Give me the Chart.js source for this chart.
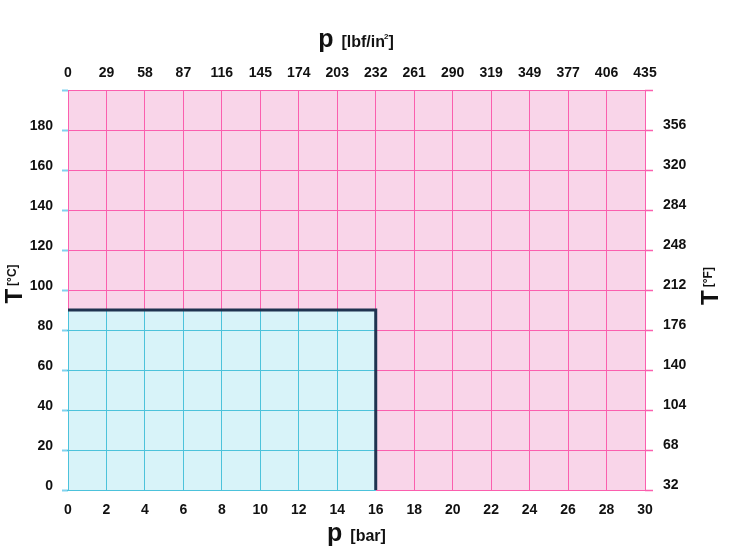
<!DOCTYPE html>
<html>
<head>
<meta charset="utf-8">
<script src="https://cdn.jsdelivr.net/npm/chart.js@4.4.0"></script>
<style>
  html, body { margin: 0; padding: 0; background: #fff; }
  #wrap { width: 730px; height: 550px; }
</style>
</head>
<body>
<div id="wrap"><canvas id="chart"></canvas></div>
<script>
(function(){
  'use strict';

  // tick labels
  const pressureBar = [0, 2, 4, 6, 8, 10, 12, 14, 16, 18, 20, 22, 24, 26, 28, 30];
  const pressurePsi = [0, 29, 58, 87, 116, 145, 174, 203, 232, 261, 290, 319, 349, 377, 406, 435];
  const tempC = [0, 20, 40, 60, 80, 100, 120, 140, 160, 180];
  const tempF = [32, 68, 104, 140, 176, 212, 248, 284, 320, 356];

  // operating limit (bar / °C)
  const limitP = [0, 16, 16];
  const limitT = [90, 90, 0];

  const PINK_BG = '#f9d5e9';
  const PINK_GRID = '#fb5fae';
  const BLUE_BG = '#d8f3f9';
  const BLUE_GRID = '#4cc2db';
  const BLUE_TICK = '#80d2ee';
  const LIMIT_LINE = '#1f3350';
  const FONT = "'Liberation Sans', Arial, Helvetica, sans-serif";

  Chart.defaults.font.family = FONT;
  Chart.defaults.color = '#111';

  const limitPoints = limitP.map((p, i) => ({ x: p, y: limitT[i] }));

  const align = (px) => Math.round(px - 0.5) + 0.5;

  const plotBackground = {
    id: 'plotBackground',
    beforeDraw(chart) {
      const { ctx, chartArea: a } = chart;
      ctx.save();
      ctx.fillStyle = PINK_BG;
      ctx.fillRect(a.left, a.top, a.right - a.left, a.bottom - a.top);
      ctx.restore();
    }
  };

  // grid lines inside the allowed region are blue
  const blueGrid = {
    id: 'blueGrid',
    afterDatasetDraw(chart, args) {
      if (args.index !== 1) return;
      const { ctx } = chart;
      const xs = chart.scales.x, ys = chart.scales.y;
      const left = xs.getPixelForValue(0), right = xs.getPixelForValue(limitP[1]);
      const top = ys.getPixelForValue(limitT[0]), bottom = ys.getPixelForValue(0);
      ctx.save();
      ctx.beginPath();
      ctx.rect(left - 1, top, right - left + 1, bottom - top + 1);
      ctx.clip();
      ctx.strokeStyle = BLUE_GRID;
      ctx.lineWidth = 1;
      ctx.beginPath();
      xs.ticks.forEach((t) => {
        const px = align(xs.getPixelForValue(t.value));
        ctx.moveTo(px, top);
        ctx.lineTo(px, bottom + 1);
      });
      ys.ticks.forEach((t) => {
        const py = align(ys.getPixelForValue(t.value));
        ctx.moveTo(left - 1, py);
        ctx.lineTo(right, py);
      });
      ctx.stroke();
      ctx.restore();
    }
  };

  function drawFlatTitle(ctx, cx, baseline, unit, sup) {
    ctx.save();
    ctx.fillStyle = '#111';
    ctx.textBaseline = 'alphabetic';
    ctx.textAlign = 'left';
    ctx.font = 'bold 25px ' + FONT;
    const wp = ctx.measureText('p').width;
    ctx.font = 'bold 16px ' + FONT;
    const wu = ctx.measureText(unit).width;
    ctx.font = 'bold 8px ' + FONT;
    const ws = sup ? ctx.measureText(sup).width : 0;
    ctx.font = 'bold 16px ' + FONT;
    const wc = sup ? ctx.measureText(']').width : 0;
    const gap = 8;
    let x = cx - (wp + gap + wu + ws + wc) / 2;
    ctx.font = 'bold 25px ' + FONT;
    ctx.fillText('p', x, baseline);
    x += wp + gap;
    ctx.font = 'bold 16px ' + FONT;
    ctx.fillText(unit, x, baseline);
    x += wu;
    if (sup) {
      ctx.font = 'bold 8px ' + FONT;
      ctx.fillText(sup, x - 1, baseline - 8);
      x += ws - 1;
      ctx.font = 'bold 16px ' + FONT;
      ctx.fillText(']', x, baseline);
    }
    ctx.restore();
  }

  function drawRotTitle(ctx, cx, cy, unit) {
    ctx.save();
    ctx.translate(cx, cy);
    ctx.rotate(-Math.PI / 2);
    ctx.fillStyle = '#111';
    ctx.textBaseline = 'middle';
    ctx.textAlign = 'left';
    ctx.font = 'bold 24px ' + FONT;
    const wt = ctx.measureText('T').width;
    ctx.font = 'bold 12px ' + FONT;
    const wu = ctx.measureText(unit).width;
    const gap = 3;
    let x = -(wt + gap + wu) / 2;
    ctx.font = 'bold 24px ' + FONT;
    ctx.fillText('T', x, 1);
    x += wt + gap;
    ctx.font = 'bold 12px ' + FONT;
    ctx.fillText(unit, x, -1);
    ctx.restore();
  }

  const axisTitles = {
    id: 'axisTitles',
    afterDraw(chart) {
      const { ctx, chartArea: a } = chart;
      const mid = (a.left + a.right) / 2;
      drawFlatTitle(ctx, mid, 47, '[lbf/in', '2');
      drawFlatTitle(ctx, mid, 541, '[bar]', null);
      drawRotTitle(ctx, 14, 284, '[°C]');
      drawRotTitle(ctx, 710, 286, '[°F]');
    }
  };

  const tickFont = { size: 14, weight: 'bold' };

  new Chart(document.getElementById('chart'), {
    type: 'line',
    data: {
      datasets: [
        {
          data: limitPoints,
          borderColor: LIMIT_LINE,
          borderWidth: 3,
          pointRadius: 0,
          fill: false,
          tension: 0
        },
        {
          data: limitPoints,
          borderWidth: 0,
          backgroundColor: BLUE_BG,
          pointRadius: 0,
          fill: 'origin',
          tension: 0
        }
      ]
    },
    options: {
      responsive: true,
      maintainAspectRatio: false,
      animation: false,
      layout: { padding: 0 },
      plugins: {
        legend: { display: false },
        tooltip: { enabled: false }
      },
      scales: {
        x: {
          type: 'linear',
          position: 'bottom',
          min: 0, max: 30,
          afterFit: (s) => { s.height = 60; },
          grid: { color: PINK_GRID, drawTicks: false },
          border: { color: PINK_GRID },
          ticks: {
            stepSize: 2, padding: 12, font: tickFont, maxRotation: 0, autoSkip: false,
            callback: (v, i) => pressureBar[i]
          }
        },
        x2: {
          type: 'linear',
          position: 'top',
          min: 0, max: 30,
          afterFit: (s) => { s.height = 90; },
          grid: { drawOnChartArea: false, drawTicks: false },
          border: { display: false },
          ticks: {
            stepSize: 2, padding: 8, font: tickFont, maxRotation: 0, autoSkip: false,
            callback: (v, i) => pressurePsi[i]
          }
        },
        y: {
          type: 'linear',
          position: 'left',
          min: 0, max: 200,
          afterFit: (s) => { s.width = 68; },
          grid: { color: PINK_GRID, tickColor: BLUE_TICK, tickLength: 6, tickWidth: 2 },
          border: { color: PINK_GRID },
          ticks: {
            stepSize: 20, padding: 9, font: tickFont, labelOffset: -4, autoSkip: false,
            callback: (v, i) => (tempC[i] === undefined ? '' : tempC[i])
          }
        },
        y2: {
          type: 'linear',
          position: 'right',
          min: 0, max: 200,
          afterFit: (s) => { s.width = 85; },
          grid: { drawOnChartArea: false, tickColor: PINK_GRID, tickLength: 8, tickWidth: 1.5 },
          border: { display: false },
          ticks: {
            stepSize: 20, padding: 10, font: tickFont, labelOffset: -5, autoSkip: false,
            callback: (v, i) => (tempF[i] === undefined ? '' : tempF[i])
          }
        }
      }
    },
    plugins: [plotBackground, blueGrid, axisTitles]
  });
})();
</script>
</body>
</html>
